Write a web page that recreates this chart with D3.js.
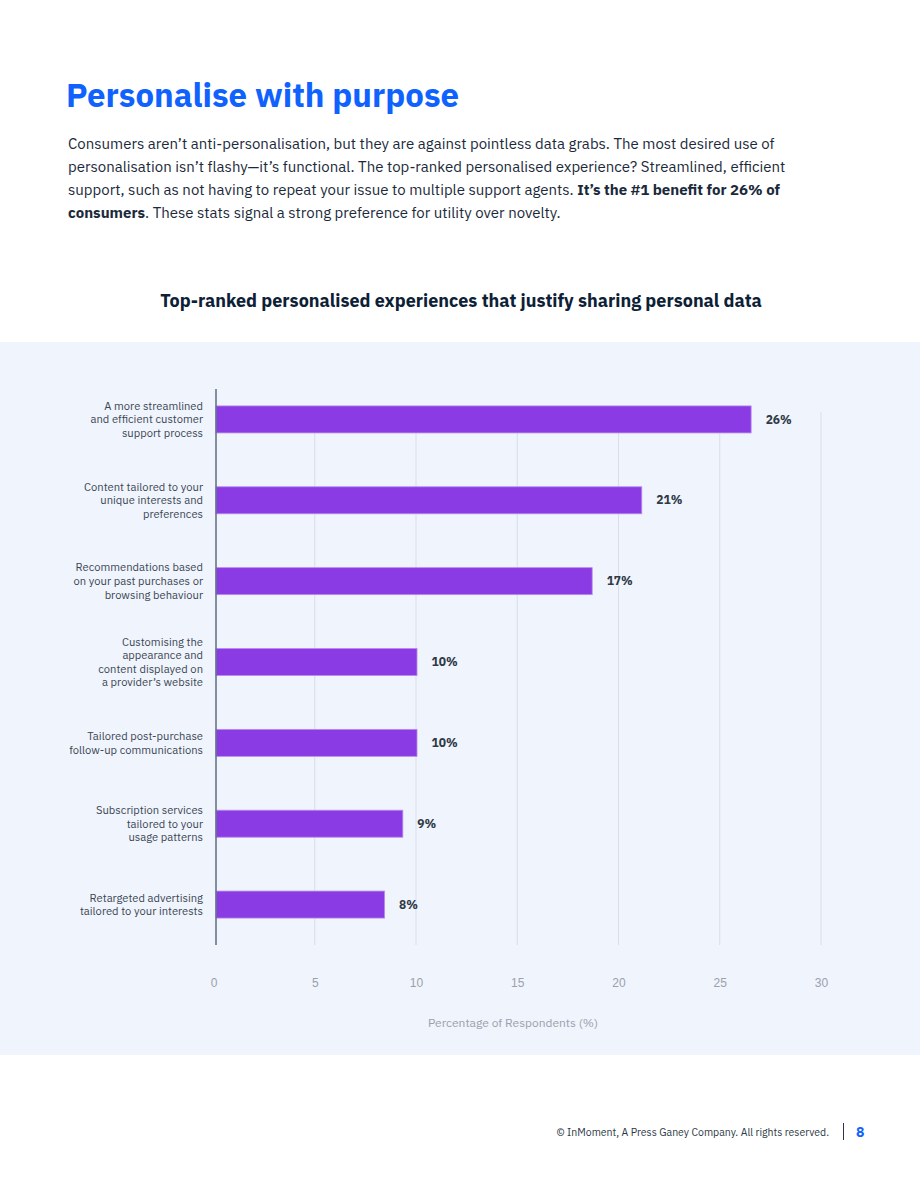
<!DOCTYPE html>
<html>
<head>
<meta charset="utf-8">
<script src="https://cdn.jsdelivr.net/npm/d3@7"></script>
<style>
  html, body { margin: 0; padding: 0; background: #fff; }
  svg { display: block; font-family: "IBM Plex Sans", Roboto, "Noto Sans", sans-serif; }
</style>
</head>
<body>
<div id="chart"></div>
<script>
// chart data
const categories = [
  ["A more streamlined", "and efficient customer", "support process"],
  ["Content tailored to your", "unique interests and", "preferences"],
  ["Recommendations based", "on your past purchases or", "browsing behaviour"],
  ["Customising the", "appearance and", "content displayed on", "a provider\u2019s website"],
  ["Tailored post-purchase", "follow-up communications"],
  ["Subscription services", "tailored to your", "usage patterns"],
  ["Retargeted advertising", "tailored to your interests"]
];
const values = [26.55, 21.15, 18.7, 10.05, 10.05, 9.35, 8.45];
const valueLabels = ["26%", "21%", "17%", "10%", "10%", "9%", "8%"];
const xTicks = [0, 5, 10, 15, 20, 25, 30];

// page text
const pageTitle = "Personalise with purpose";
const bodyLines = [
  [["Consumers aren\u2019t anti-personalisation, but they are against pointless data grabs. The most desired use of", false]],
  [["personalisation isn\u2019t flashy\u2014it\u2019s functional. The top-ranked personalised experience? Streamlined, efficient", false]],
  [["support, such as not having to repeat your issue to multiple support agents. ", false], ["It\u2019s the #1 benefit for 26% of", true]],
  [["consumers", true], [". These stats signal a strong preference for utility over novelty.", false]]
];
const chartTitle = "Top-ranked personalised experiences that justify sharing personal data";
const axisTitle = "Percentage of Respondents (%)";
const footerText = "\u00a9 InMoment, A Press Ganey Company. All rights reserved.";
const pageNumber = "8";

const W = 920, H = 1191;
const blue = "#0f62fe";
const navy = "#0d2136";

const svg = d3.select("#chart").append("svg")
  .attr("width", W)
  .attr("height", H);

// heading
svg.append("text")
  .attr("x", 66)
  .attr("y", 107)
  .attr("fill", blue)
  .style("font-size", "33px")
  .style("font-weight", 700)
  .text(pageTitle);

// intro paragraph
bodyLines.forEach((line, i) => {
  const t = svg.append("text")
    .attr("x", 68)
    .attr("y", 149 + i * 23)
    .attr("fill", "#1b2a3a")
    .style("font-size", "15px");
  line.forEach(([str, bold]) => {
    t.append("tspan").style("font-weight", bold ? 700 : 400).text(str);
  });
});

svg.append("text")
  .attr("x", 461)
  .attr("y", 307)
  .attr("text-anchor", "middle")
  .attr("fill", navy)
  .style("font-size", "18px")
  .style("font-weight", 700)
  .text(chartTitle);

// chart panel
svg.append("rect")
  .attr("x", 0)
  .attr("y", 342)
  .attr("width", W)
  .attr("height", 713)
  .attr("fill", "#eff4fd");

const x = d3.scaleLinear().domain([0, 30]).range([213.5, 821]);
const y = d3.scaleBand()
  .domain(d3.range(categories.length))
  .range([379, 945])
  .paddingInner(0.666)
  .paddingOuter(0.333);

const axisShift = 2.5; // bars and axis line sit a touch right of the zero tick

// gridlines
svg.append("g")
  .selectAll("line")
  .data(xTicks.slice(1))
  .join("line")
  .attr("x1", (d) => x(d))
  .attr("x2", (d) => x(d))
  .attr("y1", 412)
  .attr("y2", 945)
  .attr("stroke", "#d9dee8")
  .attr("stroke-width", 1);

// bars
svg.append("g")
  .selectAll("rect")
  .data(values)
  .join("rect")
  .attr("x", x(0) + axisShift)
  .attr("y", (d, i) => y(i))
  .attr("width", (d) => x(d) - x(0) - axisShift)
  .attr("height", y.bandwidth())
  .attr("fill", "#8a3be3")
  .attr("stroke", "#b98cf0")
  .attr("stroke-width", 0.8);

// value labels
svg.append("g")
  .selectAll("text")
  .data(values)
  .join("text")
  .attr("x", (d) => x(d) + 14.5)
  .attr("y", (d, i) => y(i) + y.bandwidth() / 2)
  .attr("dy", "0.35em")
  .attr("fill", "#2f3a46")
  .style("font-size", "12px")
  .style("font-weight", 700)
  .text((d, i) => valueLabels[i]);

// category labels
const lineH = 13.6;
svg.append("g")
  .selectAll("text")
  .data(categories)
  .join("text")
  .attr("text-anchor", "end")
  .attr("fill", "#3b4653")
  .style("font-size", "11.2px")
  .each(function (lines, i) {
    const cy = y(i) + y.bandwidth() / 2;
    const top = cy - ((lines.length - 1) * lineH) / 2;
    d3.select(this)
      .selectAll("tspan")
      .data(lines)
      .join("tspan")
      .attr("x", 203)
      .attr("y", (d, j) => top + j * lineH)
      .attr("dy", "0.35em")
      .text((d) => d);
  });

// y axis line
svg.append("line")
  .attr("x1", x(0) + axisShift)
  .attr("x2", x(0) + axisShift)
  .attr("y1", 389)
  .attr("y2", 945)
  .attr("stroke", "#5d6e82")
  .attr("stroke-width", 1.5);

// x tick labels
const xAxis = svg.append("g")
  .attr("transform", "translate(0,983)")
  .call(d3.axisBottom(x).tickValues(xTicks).tickSize(0).tickPadding(0));
xAxis.select(".domain").remove();
xAxis.selectAll("text")
  .attr("y", 0)
  .attr("dy", "0.35em")
  .attr("fill", "#9aa1ab")
  .style("font-size", "12px")
  .style("font-family", "inherit");

svg.append("text")
  .attr("x", 513)
  .attr("y", 1027)
  .attr("text-anchor", "middle")
  .attr("fill", "#9aa1ab")
  .style("font-size", "12px")
  .text(axisTitle);

// footer
svg.append("text")
  .attr("x", 829)
  .attr("y", 1136)
  .attr("text-anchor", "end")
  .attr("fill", "#2c3845")
  .style("font-size", "10.5px")
  .text(footerText);

svg.append("line")
  .attr("x1", 843.5)
  .attr("x2", 843.5)
  .attr("y1", 1123)
  .attr("y2", 1140)
  .attr("stroke", "#2c3845")
  .attr("stroke-width", 1);

svg.append("text")
  .attr("x", 856)
  .attr("y", 1137)
  .attr("fill", blue)
  .style("font-size", "14px")
  .style("font-weight", 700)
  .text(pageNumber);
</script>
</body>
</html>
